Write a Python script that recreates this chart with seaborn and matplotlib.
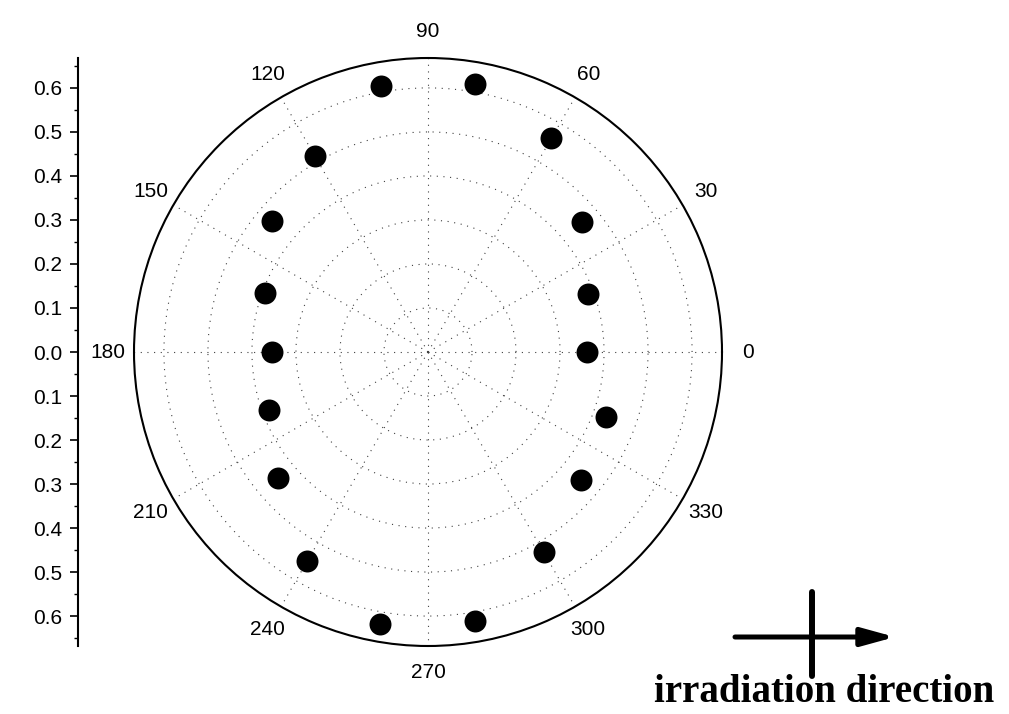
import numpy as np
import pandas as pd
import matplotlib
matplotlib.use("Agg")
import matplotlib.pyplot as plt
import seaborn as sns
from matplotlib.patches import FancyArrowPatch
from matplotlib.ticker import MultipleLocator, FuncFormatter

angle_deg = [0, 20, 40, 60, 80, 100, 120, 140, 160, 180, 200, 220, 240, 260, 280, 300, 320, 340]
radius = [0.361, 0.388, 0.458, 0.561, 0.619, 0.614, 0.513, 0.463, 0.393,
          0.355, 0.385, 0.445, 0.549, 0.628, 0.620, 0.525, 0.453, 0.431]
theta_labels = [0, 30, 60, 90, 120, 150, 180, 210, 240, 270, 300, 330]
r_max = 0.668

sns.set_style("white", {"xtick.bottom": True, "ytick.left": True,
                        "text.color": "black", "xtick.color": "black", "ytick.color": "black",
                        "axes.edgecolor": "black"})
plt.rcParams["font.family"] = ["Liberation Sans", "DejaVu Sans"]

df = pd.DataFrame({"theta": np.deg2rad(angle_deg), "r": radius})

W, H = 1009, 714
fig = plt.figure(figsize=(W / 100, H / 100), dpi=100)

cx, cy, R = 428, 352, 294
ax = fig.add_axes([(cx - R) / W, (H - cy - R) / H, 2 * R / W, 2 * R / H], projection="polar")
sns.scatterplot(data=df, x="theta", y="r", ax=ax, s=250, color="black",
                edgecolor="black", linewidth=0, zorder=5, legend=False)
ax.set_ylim(0, r_max)
ax.set_xticks(np.deg2rad(theta_labels))
ax.set_xticklabels([str(t) for t in theta_labels], fontsize=15)
ax.set_xticks(np.deg2rad(np.arange(15, 360, 30)), minor=True)
ax.tick_params(axis="x", which="major", direction="in", length=10, width=1.2, pad=12, colors="black")
ax.tick_params(axis="x", which="minor", direction="in", length=5, width=1.0, colors="black")
ax.set_yticks(np.arange(0.1, 0.61, 0.1))
ax.set_yticklabels([])
ax.grid(True, color="0.25", linestyle=(0, (1, 5)), linewidth=0.8)
ax.spines["polar"].set_linewidth(1.5)
ax.spines["polar"].set_color("black")
ax.set_xlabel("")
ax.set_ylabel("")

# left radial scale
lax = fig.add_axes([78 / W, (H - cy - R) / H, 0.001, 2 * R / H])
lax.set_ylim(-r_max, r_max)
lax.yaxis.set_major_locator(MultipleLocator(0.1))
lax.yaxis.set_minor_locator(MultipleLocator(0.05))
lax.yaxis.set_major_formatter(FuncFormatter(lambda v, p: f"{abs(v):.1f}"))
lax.tick_params(axis="y", which="major", left=True, direction="out", length=6, width=1.2,
                labelsize=15, pad=5.5)
lax.tick_params(axis="y", which="minor", left=True, direction="out", length=3, width=1.0)
lax.set_xticks([])
for side in ["top", "right", "bottom"]:
    lax.spines[side].set_visible(False)
lax.spines["left"].set_linewidth(1.5)
lax.set_facecolor("none")

# irradiation direction mark
fig.add_artist(plt.Line2D([812 / W, 812 / W], [1 - 592 / H, 1 - 676 / H], color="black", lw=4.3))
fig.patches.append(FancyArrowPatch(
    (735 / W, 1 - 637 / H), (895 / W, 1 - 637 / H), transform=fig.transFigure,
    arrowstyle="-|>,head_length=20,head_width=5.5", mutation_scale=1, shrinkA=0, shrinkB=0,
    color="black", lw=3.6))
fig.text(824 / W, 12 / H, "irradiation direction", ha="center", va="baseline",
         fontsize=28, fontweight="bold", family=["Liberation Serif", "DejaVu Serif"])

fig.savefig("out.png", dpi=100)
